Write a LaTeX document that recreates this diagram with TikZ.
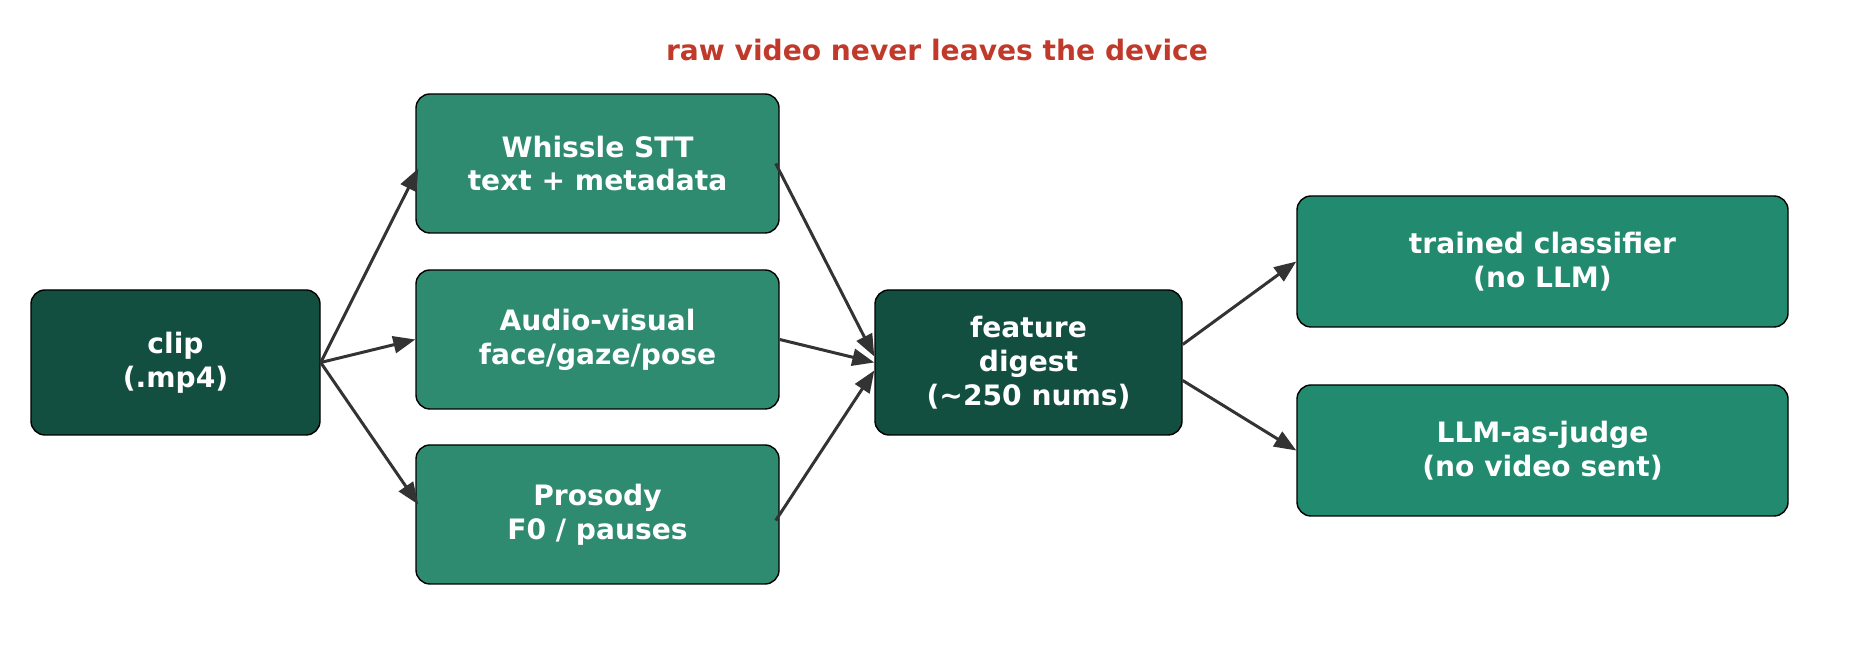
\documentclass[tikz,border=0pt]{standalone}
\usepackage{fontspec}
\setmainfont{DejaVu Sans}
\usetikzlibrary{arrows.meta}
\definecolor{darkgreen}{HTML}{124F40}
\definecolor{midgreen}{HTML}{2E8B6F}
\definecolor{outgreen}{HTML}{218A6F}
\definecolor{titlered}{HTML}{C0392B}
\definecolor{arrowgray}{HTML}{333333}
\begin{document}
\begin{tikzpicture}[scale=1.0,
  box/.style={draw=black, line width=0.4pt, rounded corners=0.14cm, align=center,
    text=white, font=\bfseries\fontsize{8}{9.6}\selectfont, inner sep=0pt},
  flow/.style={draw=arrowgray, line width=0.85pt, -{Triangle[length=0.22cm,width=0.17cm]}}]
\useasboundingbox (0,0) rectangle (18.74,6.53);
\node[text=titlered, font=\bfseries\fontsize{8}{9.6}\selectfont] (title) at (9.37,6.03) {raw video never leaves the device};
\node[box, fill=darkgreen, minimum width=2.89cm, minimum height=1.45cm] (clip) at (1.755,2.905) {clip\\(.mp4)};
\node[box, fill=midgreen, minimum width=3.63cm, minimum height=1.39cm] (stt) at (5.975,4.895) {Whissle STT\\text + metadata};
\node[box, fill=midgreen, minimum width=3.63cm, minimum height=1.39cm] (av) at (5.975,3.135) {Audio-visual\\face/gaze/pose};
\node[box, fill=midgreen, minimum width=3.63cm, minimum height=1.39cm] (prosody) at (5.975,1.385) {Prosody\\F0 / pauses};
\node[box, fill=darkgreen, minimum width=3.07cm, minimum height=1.45cm] (digest) at (10.285,2.905) {feature\\digest\\(\textasciitilde250 nums)};
\node[box, fill=outgreen, minimum width=4.91cm, minimum height=1.31cm] (classifier) at (15.425,3.915) {trained classifier\\(no LLM)};
\node[box, fill=outgreen, minimum width=4.91cm, minimum height=1.31cm] (judge) at (15.425,2.025) {LLM-as-judge\\(no video sent)};
\draw[flow] (clip.east) -- ([xshift=0.03cm,yshift=-0.05cm]stt.west);
\draw[flow] (clip.east) -- (av.west);
\draw[flow] (clip.east) -- ([xshift=0.03cm,yshift=0.1cm]prosody.west);
\draw[flow] ([xshift=-0.04cm]stt.east) -- ([yshift=0.06cm]digest.west);
\draw[flow] (av.east) -- (digest.west);
\draw[flow] ([xshift=-0.04cm,yshift=-0.06cm]prosody.east) -- ([yshift=-0.08cm]digest.west);
\draw[flow] ([yshift=0.18cm]digest.east) -- (classifier.west);
\draw[flow] ([yshift=-0.18cm]digest.east) -- (judge.west);
\end{tikzpicture}
\end{document}
